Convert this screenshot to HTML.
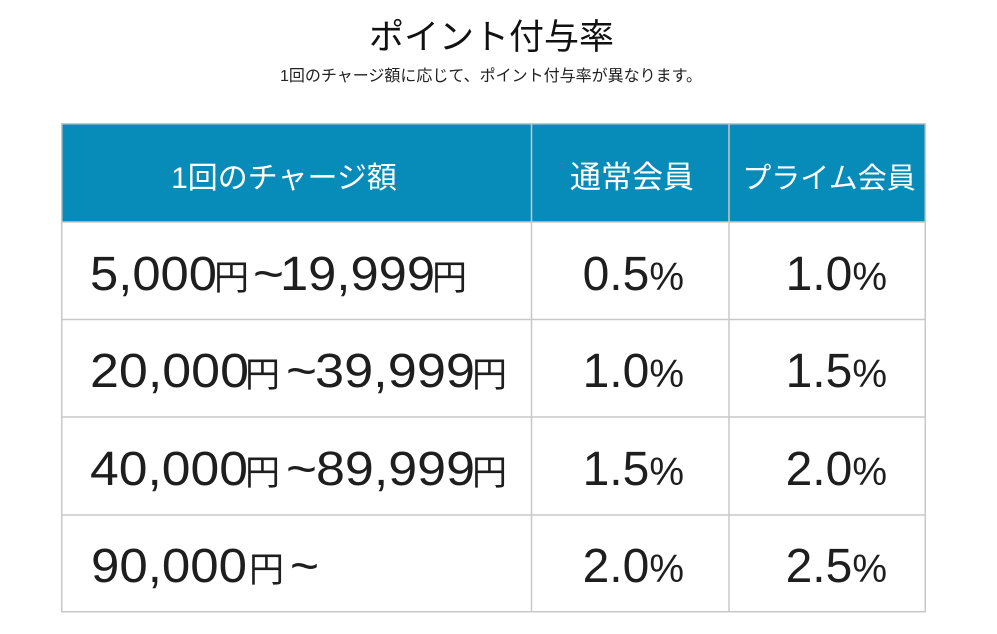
<!DOCTYPE html>
<html>
<head>
<meta charset="utf-8">
<style>
html,body{margin:0;padding:0;background:#fff;}
body{width:997px;height:634px;overflow:hidden;}
svg{display:block;}
.jp{font-family:"Liberation Sans","Noto Sans CJK JP",sans-serif;}
.num{font-family:"Liberation Sans","Noto Sans CJK JP",sans-serif;font-size:48px;fill:#1e1e1e;}
.yen{font-family:"Noto Sans CJK JP",sans-serif;font-size:35px;fill:#1e1e1e;}
.pc{font-size:39px;}
</style>
</head>
<body>
<svg width="997" height="634" viewBox="0 0 997 634" xmlns="http://www.w3.org/2000/svg">
  <rect x="0" y="0" width="997" height="634" fill="#ffffff"/>
  <!-- title -->
  <text class="jp" x="491.5" y="49" font-size="35" text-anchor="middle" fill="#111">ポイント付与率</text>
  <text class="jp" x="491" y="81" font-size="16" text-anchor="middle" fill="#222">1回のチャージ額に応じて、ポイント付与率が異なります。</text>

  <!-- header -->
  <rect x="61" y="123" width="864" height="99" fill="#078cba"/>
  <text class="jp" x="284" y="188" font-size="30" text-anchor="middle" fill="#ffffff">1回のチャージ額</text>
  <text class="jp" x="632" y="188" font-size="31" text-anchor="middle" fill="#ffffff">通常会員</text>
  <text class="jp" x="829" y="188" font-size="29" text-anchor="middle" fill="#ffffff">プライム会員</text>

  <!-- grid lines -->
  <g stroke="#c8c8c8" stroke-width="1.5" fill="none">
    <rect x="61.75" y="123.75" width="863.5" height="488"/>
    <line x1="531.5" y1="123" x2="531.5" y2="612"/>
    <line x1="729" y1="123" x2="729" y2="612"/>
    <line x1="61" y1="222" x2="925" y2="222"/>
    <line x1="61" y1="319.5" x2="925" y2="319.5"/>
    <line x1="61" y1="417" x2="925" y2="417"/>
    <line x1="61" y1="515" x2="925" y2="515"/>
  </g>

  <!-- row 1 -->
  <text class="num" x="90" y="290" textLength="127" lengthAdjust="spacingAndGlyphs">5,000</text>
  <text class="yen" x="214" y="290">円</text>
  <text class="num" x="253" y="290" textLength="31" lengthAdjust="spacingAndGlyphs">~</text>
  <text class="num" x="280" y="290" textLength="155" lengthAdjust="spacingAndGlyphs">19,999</text>
  <text class="yen" x="432" y="290">円</text>

  <!-- row 2 -->
  <text class="num" x="90" y="387" textLength="159" lengthAdjust="spacingAndGlyphs">20,000</text>
  <text class="yen" x="245" y="387">円</text>
  <text class="num" x="286" y="387" textLength="31" lengthAdjust="spacingAndGlyphs">~</text>
  <text class="num" x="315" y="387" textLength="160" lengthAdjust="spacingAndGlyphs">39,999</text>
  <text class="yen" x="472" y="387">円</text>

  <!-- row 3 -->
  <text class="num" x="90" y="485" textLength="158" lengthAdjust="spacingAndGlyphs">40,000</text>
  <text class="yen" x="245" y="485">円</text>
  <text class="num" x="286" y="485" textLength="31" lengthAdjust="spacingAndGlyphs">~</text>
  <text class="num" x="316" y="485" textLength="159" lengthAdjust="spacingAndGlyphs">89,999</text>
  <text class="yen" x="472" y="485">円</text>

  <!-- row 4 -->
  <text class="num" x="91" y="582" textLength="156" lengthAdjust="spacingAndGlyphs">90,000</text>
  <text class="yen" x="249" y="582">円</text>
  <text class="num" x="290" y="582" textLength="29" lengthAdjust="spacingAndGlyphs">~</text>

  <!-- regular member -->
  <text class="num" x="684" y="290" text-anchor="end">0.5<tspan class="pc">%</tspan></text>
  <text class="num" x="684" y="387" text-anchor="end">1.0<tspan class="pc">%</tspan></text>
  <text class="num" x="684" y="485" text-anchor="end">1.5<tspan class="pc">%</tspan></text>
  <text class="num" x="684" y="582" text-anchor="end">2.0<tspan class="pc">%</tspan></text>

  <!-- prime member -->
  <text class="num" x="887" y="290" text-anchor="end">1.0<tspan class="pc">%</tspan></text>
  <text class="num" x="887" y="387" text-anchor="end">1.5<tspan class="pc">%</tspan></text>
  <text class="num" x="887" y="485" text-anchor="end">2.0<tspan class="pc">%</tspan></text>
  <text class="num" x="887" y="582" text-anchor="end">2.5<tspan class="pc">%</tspan></text>
</svg>
</body>
</html>
